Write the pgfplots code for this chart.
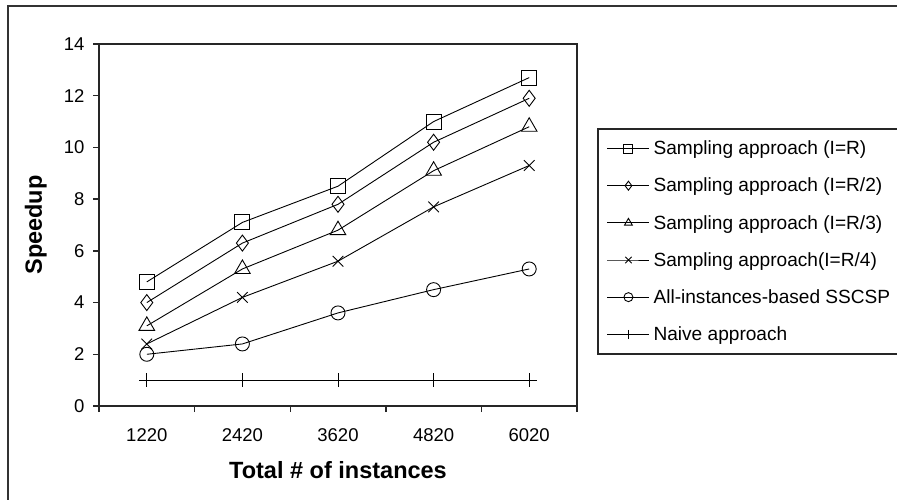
\documentclass[border=0pt]{standalone}
\usepackage{pgfplots}
\pgfplotsset{compat=1.18}
\usepackage{fontspec}
\setmainfont{Liberation Sans}
\begin{document}
\begin{tikzpicture}[x=1pt,y=1pt]
\path[use as bounding box] (0,0) rectangle (897,499);
\begin{scope}
\clip (0,0) rectangle (897,499);
\draw[line width=2pt, black!80] (8,-10) -- (8,493) -- (910,493);
\begin{axis}[
  scale only axis, width=478pt, height=362pt,
  at={(99pt,93pt)}, anchor=south west,
  xmin=-0.5, xmax=4.5, ymin=0, ymax=14,
  xtick={-0.5,0.5,...,4.5}, x tick label as interval,
  xticklabels={1220,2420,3620,4820,6020},
  ytick={0,2,...,14},
  tick align=outside, tick pos=left, major tick length=6pt,
  axis line style={line width=1.6pt, black!85},
  every tick/.style={line width=1.4pt, black!85},
  /pgf/number format/assume math mode=true,
  ticklabel style={font=\fontsize{18.5}{20}\selectfont},
  xticklabel style={yshift=-13pt},
  yticklabel style={xshift=-5pt},
  xlabel={Total \# of instances},
  ylabel={Speedup},
  xlabel style={at={(axis description cs:0.5,-0.177)}, anchor=center, font=\fontsize{23.5}{26}\selectfont\bfseries},
  ylabel style={at={(axis description cs:-0.132,0.5)}, anchor=center, font=\fontsize{23.5}{26}\selectfont\bfseries},
  legend style={at={(axis description cs:1.042,0.7675)}, anchor=north west,
    draw=black!85, line width=1.5pt, font=\fontsize{19.1}{22}\selectfont,
    legend cell align=left, row sep=17.8pt, column sep=1.5pt, inner xsep=9pt, inner ysep=10pt},
  legend image code/.code={\draw[mark repeat=2,mark phase=2,#1] plot coordinates {(0pt,0pt) (21pt,0pt) (42pt,0pt)};},
  legend image post style={mark size=4.5pt},
  every axis plot/.append style={black, line width=0.9pt, mark options={solid, line width=0.9pt}},
]
\addplot[mark=square, mark size=7.5pt] coordinates {(0,4.8) (1,7.1) (2,8.5) (3,11.0) (4,12.7)};
\addlegendentry{Sampling approach (I=R)}
\addplot[mark=diamond, mark size=8pt] coordinates {(0,4.0) (1,6.3) (2,7.8) (3,10.2) (4,11.9)};
\addlegendentry{Sampling approach (I=R/2)}
\addplot[mark=triangle, mark size=9pt] coordinates {(0,3.1) (1,5.3) (2,6.8) (3,9.1) (4,10.8)};
\addlegendentry{Sampling approach (I=R/3)}
\addplot[mark=x, mark size=7.5pt] coordinates {(0,2.4) (1,4.2) (2,5.6) (3,7.7) (4,9.3)};
\addlegendentry{Sampling approach(I=R/4)}
\addplot[mark=o, mark size=7pt] coordinates {(0,2.0) (1,2.4) (2,3.6) (3,4.5) (4,5.3)};
\addlegendentry{All-instances-based SSCSP}
\addplot[mark=+, mark size=7pt, line width=1.2pt] coordinates {(0,1.0) (1,1.0) (2,1.0) (3,1.0) (4,1.0)};
\addlegendentry{Naive approach}
\addplot[mark=none, line width=1.2pt, forget plot] coordinates {(-0.08,1.0) (4.08,1.0)};
\end{axis}
\end{scope}
\end{tikzpicture}
\end{document}
